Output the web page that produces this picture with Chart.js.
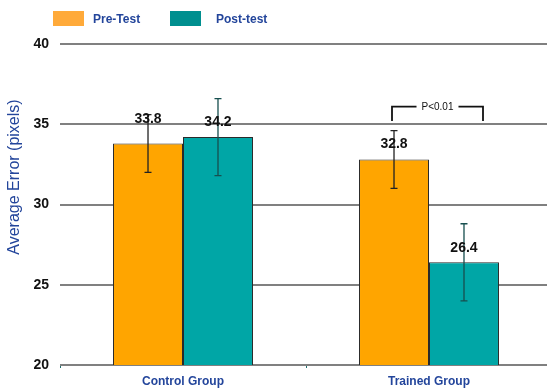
<!DOCTYPE html>
<html><head><meta charset="utf-8">
<script src="https://cdn.jsdelivr.net/npm/chart.js@4/dist/chart.umd.min.js"></script>
<style>html,body{margin:0;padding:0;overflow:hidden;background:#fff}#wrap{width:552px;height:389px}</style>
</head><body><div id="wrap"><canvas id="c" width="552" height="389"></canvas></div>
<script>
const categories = ['Control Group', 'Trained Group'];
const seriesNames = ['Pre-Test', 'Post-test'];
const preTest = [33.8, 32.8];
const postTest = [34.2, 26.4];
const preErr = [1.8, 1.8];
const postErr = [2.4, 2.4];
const yTicks = [20, 25, 30, 35, 40];
const yTitle = 'Average Error (pixels)';
const significanceText = 'P<0.01';

const FONT = "'Liberation Sans', Arial, sans-serif";
const BLUE = '#23459b';
const preColor = '#FFA500', postColor = '#00A6A6';
const errors = [preErr, postErr];

const overlay = {
  id: 'overlay',
  afterDatasetsDraw(chart) {
    const ctx = chart.ctx, y = chart.scales.y, x = chart.scales.x;
    // error bars
    chart.data.datasets.forEach((ds, di) => {
      const meta = chart.getDatasetMeta(di);
      meta.data.forEach((el, i) => {
        const v = ds.data[i], e = errors[di][i];
        const yt = y.getPixelForValue(v + e), yb = y.getPixelForValue(v - e);
        ctx.save();
        ctx.strokeStyle = di === 0 ? '#222' : '#174f4f';
        ctx.lineWidth = 1.3;
        ctx.beginPath();
        ctx.moveTo(el.x, yt); ctx.lineTo(el.x, yb);
        ctx.moveTo(el.x - 3.5, yt); ctx.lineTo(el.x + 3.5, yt);
        ctx.moveTo(el.x - 3.5, yb); ctx.lineTo(el.x + 3.5, yb);
        ctx.stroke();
        ctx.restore();
      });
    });
    // value labels
    const offs = [[24, 15], [15, 14]];
    chart.data.datasets.forEach((ds, di) => {
      const meta = chart.getDatasetMeta(di);
      meta.data.forEach((el, i) => {
        ctx.save();
        ctx.font = 'bold 14px ' + FONT;
        ctx.fillStyle = '#111';
        ctx.textAlign = 'center'; ctx.textBaseline = 'middle';
        ctx.fillText(ds.data[i].toFixed(1), el.x, el.y - offs[i][di]);
        ctx.restore();
      });
    });
    // significance bracket over trained group
    const cx = x.getPixelForValue(1);
    const l = cx - 37, r = cx + 54;
    const top = y.getPixelForValue(36.1), bot = y.getPixelForValue(35.2);
    ctx.save();
    ctx.font = '10px ' + FONT;
    const tw = ctx.measureText(significanceText).width;
    const tc = (l + r) / 2;
    ctx.strokeStyle = '#111'; ctx.lineWidth = 1.8;
    ctx.beginPath();
    ctx.moveTo(l, bot); ctx.lineTo(l, top); ctx.lineTo(tc - tw / 2 - 5, top);
    ctx.moveTo(tc + tw / 2 + 5, top); ctx.lineTo(r, top); ctx.lineTo(r, bot);
    ctx.stroke();
    ctx.fillStyle = '#111'; ctx.textAlign = 'center'; ctx.textBaseline = 'middle';
    ctx.fillText(significanceText, tc, top + 0.5);
    ctx.restore();
  },
  afterDraw(chart) {
    const ctx = chart.ctx;
    // legend
    const items = [[53, 93], [170, 216]];
    chart.data.datasets.forEach((ds, di) => {
      ctx.save();
      ctx.fillStyle = di === 0 ? '#FFAA3A' : '#008F8F';
      ctx.fillRect(items[di][0], 11, 31, 15);
      ctx.font = 'bold 12px ' + FONT;
      ctx.fillStyle = BLUE;
      ctx.textAlign = 'left'; ctx.textBaseline = 'middle';
      ctx.fillText(ds.label, items[di][1], 20);
      ctx.restore();
    });
    // y title
    ctx.save();
    ctx.translate(15, 177);
    ctx.rotate(-Math.PI / 2);
    ctx.font = '16px ' + FONT;
    ctx.fillStyle = BLUE;
    ctx.textAlign = 'center'; ctx.textBaseline = 'middle';
    ctx.fillText(yTitle, 0, 0);
    ctx.restore();
  }
};

new Chart(document.getElementById('c'), {
  type: 'bar',
  data: {
    labels: categories,
    datasets: [
      { label: seriesNames[0], data: preTest, backgroundColor: preColor, borderColor: '#2a2a2a', borderWidth: 1 },
      { label: seriesNames[1], data: postTest, backgroundColor: postColor, borderColor: '#2a2a2a', borderWidth: 1 }
    ]
  },
  options: {
    responsive: false,
    animation: false,
    events: [],
    layout: { padding: { top: 44, left: 0, right: 0, bottom: 0 } },
    plugins: { legend: { display: false }, tooltip: { enabled: false } },
    datasets: { bar: { categoryPercentage: 0.569, barPercentage: 1 } },
    scales: {
      x: {
        grid: { display: true, offset: true, drawOnChartArea: false, drawTicks: true, tickLength: 3, color: '#1f6f6f', lineWidth: 1 },
        border: { display: false },
        ticks: { font: { family: FONT, size: 12, weight: 'bold' }, color: BLUE, padding: 6 },
        afterFit(s) { s.height = 24; }
      },
      y: {
        min: yTicks[0], max: yTicks[yTicks.length - 1],
        afterBuildTicks(s) { s.ticks = yTicks.map(v => ({ value: v })); },
        grid: { color: '#808080', lineWidth: 2, drawTicks: false },
        border: { display: false },
        ticks: { font: { family: FONT, size: 14, weight: 'bold' }, color: '#111', padding: 11 },
        afterFit(s) { s.width = 60; }
      }
    }
  },
  plugins: [overlay]
});
</script>
</body></html>
